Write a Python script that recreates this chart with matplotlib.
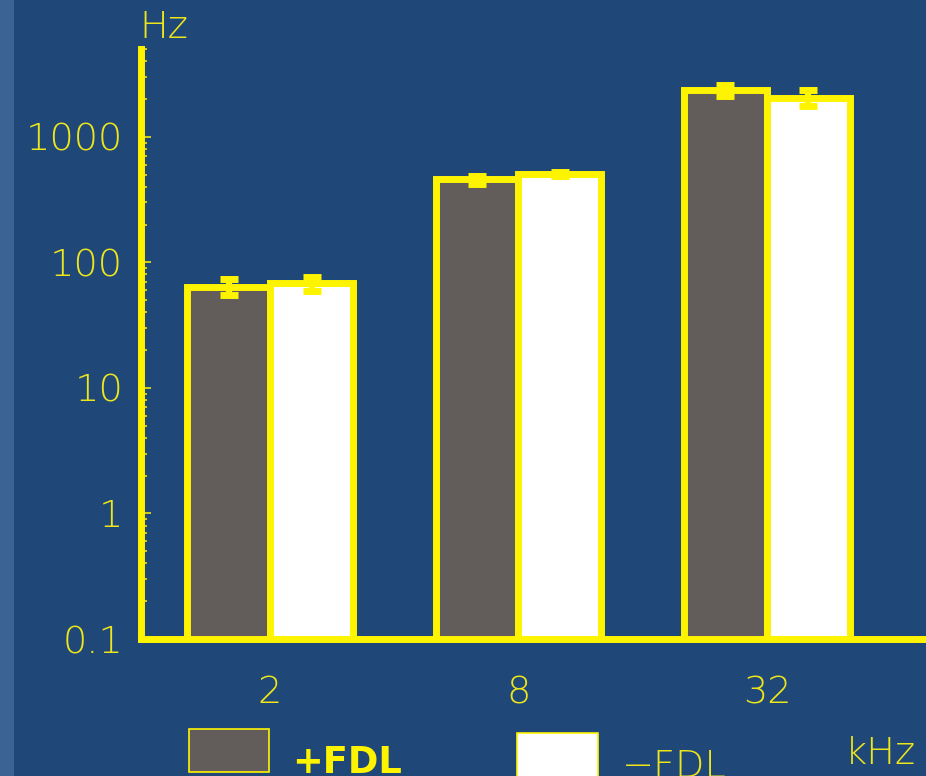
import matplotlib

matplotlib.use("Agg")
import matplotlib.pyplot as plt
import numpy as np
from matplotlib.patches import Rectangle
from matplotlib.ticker import LogLocator, NullFormatter, FixedLocator

# data
freqs = ["2", "8", "32"]
fdl_plus = [64, 457, 2350]
fdl_plus_err = [9, 33, 250]
fdl_minus = [68, 503, 2050]
fdl_minus_err = [9, 20, 300]
y_ticks = [0.1, 1, 10, 100, 1000]
y_tick_labels = ["0.1", "1", "10", "100", "1000"]

BG = "#1f4879"
STRIP = "#3a6494"
YELLOW = "#fff400"
TEXT = "#eee61a"
DARK = "#625d5b"
FONT = ["DejaVu Sans"]
THIN = 200  # extra light if the font has it

W, H = 926, 776
fig = plt.figure(figsize=(W / 100, H / 100), dpi=100, facecolor=BG)
fig.add_artist(Rectangle((0, 0), 14 / W, 1, transform=fig.transFigure,
                         facecolor=STRIP, edgecolor="none"))

ax = fig.add_axes([141.3 / W, 137 / H, 1 - 141.3 / W, 590 / H])
ax.set_facecolor(BG)

x = np.arange(len(freqs))
width = 0.334
bar_kw = dict(width=width, edgecolor=YELLOW, linewidth=5, zorder=2)
ax.bar(x - width / 2, fdl_plus, color=DARK, **bar_kw)
ax.bar(x + width / 2, fdl_minus, color="white", **bar_kw)
err_kw = dict(fmt="none", ecolor=YELLOW, elinewidth=4.5, capsize=6.5,
              capthick=5, zorder=3)
ax.errorbar(x - width / 2, fdl_plus, yerr=fdl_plus_err, **err_kw)
ax.errorbar(x + width / 2, fdl_minus, yerr=fdl_minus_err, **err_kw)

ax.set_yscale("log")
ax.set_ylim(0.1, 5000)
ax.set_xlim(-0.518, 2.64)

for side in ("top", "right"):
    ax.spines[side].set_visible(False)
for side in ("left", "bottom"):
    ax.spines[side].set_color(YELLOW)
    ax.spines[side].set_linewidth(5)
    ax.spines[side].set_zorder(4)

ax.yaxis.set_major_locator(FixedLocator(y_ticks))
ax.set_yticklabels(y_tick_labels)
ax.yaxis.set_minor_locator(LogLocator(base=10, subs=np.arange(2, 10)))
ax.yaxis.set_minor_formatter(NullFormatter())
ax.tick_params(axis="y", which="major", direction="in", length=7.5,
               width=1.1, color=YELLOW, pad=13)
ax.tick_params(axis="y", which="minor", direction="in", length=4,
               width=1.1, color=YELLOW)
ax.set_xticks(x)
ax.set_xticklabels(freqs)
ax.tick_params(axis="x", length=0, pad=26)
for lab in ax.get_xticklabels() + ax.get_yticklabels():
    lab.set_color(TEXT)
    lab.set_fontsize(27.5)
    lab.set_family(FONT)
    lab.set_fontweight(THIN)

text_kw = dict(color=TEXT, fontsize=27.5, family=FONT, fontweight=THIN)
fig.text(139 / W, 1 - 27 / H, "Hz", ha="left", va="center", **text_kw)
fig.text(845 / W, 1 - 753 / H, "kHz", ha="left", va="center", **text_kw)

# legend, drawn by hand (runs off the bottom edge like the original)
fig.add_artist(Rectangle((189 / W, 1 - 772 / H), 80 / W, 43 / H,
                         transform=fig.transFigure, facecolor=DARK,
                         edgecolor=YELLOW, linewidth=1.2))
fig.text(292 / W, 1 - 773 / H, "+FDL", ha="left", va="baseline",
         color=YELLOW, fontsize=26.5, fontweight="bold", family="DejaVu Sans")
fig.add_artist(Rectangle((517 / W, 1 - 790 / H), 81 / W, 57 / H,
                         transform=fig.transFigure, facecolor="white",
                         edgecolor=YELLOW, linewidth=1.2))
fig.text(622 / W, 1 - 777 / H, "\u2212FDL", ha="left", va="baseline",
         **text_kw)

fig.savefig("out.png", dpi=100, facecolor=BG)
